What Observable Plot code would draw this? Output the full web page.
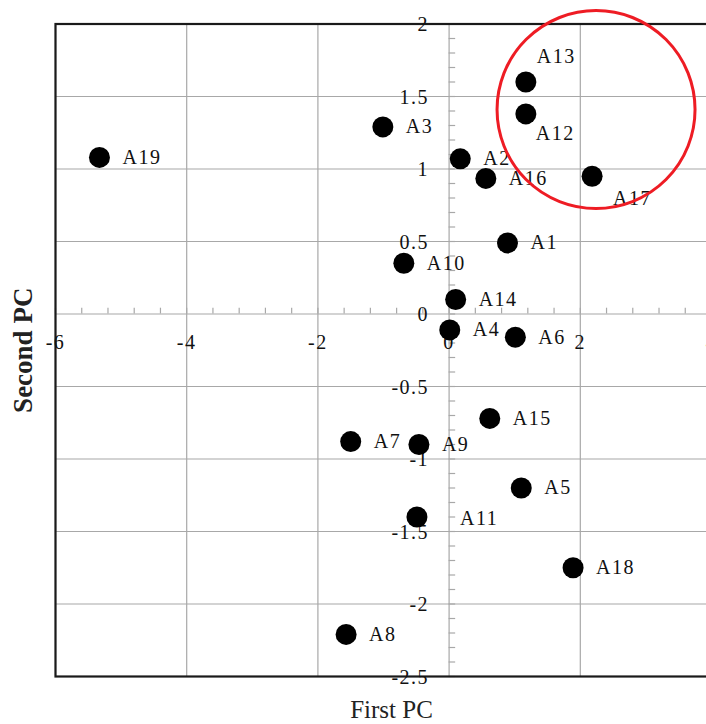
<!DOCTYPE html>
<html>
<head>
<meta charset="utf-8">
<script src="https://cdn.jsdelivr.net/npm/d3@7"></script>
<script src="https://cdn.jsdelivr.net/npm/@observablehq/plot@0.6"></script>
<style>
  body { margin: 0; background: #fff; }
  #chart { width: 706px; height: 724px; overflow: hidden; }
</style>
</head>
<body>
<div id="chart"></div>
<script>
// Sample names and their principal-component scores
const names = ["A1","A2","A3","A4","A5","A6","A7","A8","A9","A10","A11","A12","A13","A14","A15","A16","A17","A18","A19"];
const pc1   = [0.89, 0.17, -1.01, 0.01, 1.10, 1.01, -1.50, -1.57, -0.46, -0.69, -0.49, 1.17, 1.17, 0.10, 0.62, 0.56, 2.18, 1.89, -5.33];
const pc2   = [0.49, 1.07, 1.29, -0.11, -1.20, -0.16, -0.88, -2.21, -0.90, 0.35, -1.40, 1.38, 1.60, 0.10, -0.72, 0.935, 0.95, -1.75, 1.08];

// Axis tick values and labels
const xTicks = [-6, -4, -2, 0, 2, 4];
const xTickLabels = ["-6", "-4", "-2", "0", "2", "4"];
const yTicks = [2, 1.5, 1, 0.5, 0, -0.5, -1, -1.5, -2, -2.5];
const yTickLabels = ["2", "1.5", "1", "0.5", "0", "-0.5", "-1", "-1.5", "-2", "-2.5"];
const xMinor = d3.range(-6, 4.001, 0.4);
const yMinor = d3.range(-2.5, 2.001, 0.1);

// Highlighted cluster (red circle centre, in data units)
const highlight = [{x: 2.24, y: 1.41}];

// Labels placed away from their default spot
const labelOffsets = {A12: [10, 20], A13: [11, -25], A17: [21, 22], A11: [43, 2]};

const points = names.map((n, i) => ({name: n, pc1: pc1[i], pc2: pc2[i]}));
const normalPts = points.filter(d => !(d.name in labelOffsets));
const xTickData = xTicks.map((v, i) => ({v, label: xTickLabels[i]}));
const yTickData = yTicks.map((v, i) => ({v, label: yTickLabels[i]}));

const serif = "'Liberation Serif', 'Times New Roman', serif";
const gridColor = "#a8a8a8";

const marks = [
  Plot.ruleX(xTicks, {stroke: gridColor, strokeWidth: 1.2}),
  Plot.ruleY(yTicks, {stroke: gridColor, strokeWidth: 1.2}),
  Plot.ruleX(xMinor, {x: d => d, y1: 0, y2: 0.04, stroke: gridColor, strokeWidth: 1.2}),
  Plot.ruleY(yMinor, {y: d => d, x1: 0, x2: 0.1, stroke: gridColor, strokeWidth: 1.2}),
  Plot.frame({stroke: "#1a1a1a", strokeWidth: 2.2}),
  Plot.text(xTickData, {x: "v", y: 0, text: "label", dy: 29, fontSize: 20, fill: "#111", fontFamily: serif}),
  Plot.text(yTickData, {x: 0, y: "v", text: "label", dx: -20, dy: 1, textAnchor: "end", fontSize: 20, fill: "#111", fontFamily: serif}),
  Plot.dot(points, {x: "pc1", y: "pc2", r: 10.5, fill: "#000", stroke: "none"}),
  Plot.text(normalPts, {x: "pc1", y: "pc2", text: "name", dx: 23, textAnchor: "start", fontSize: 20, fill: "#111", fontFamily: serif}),
  ...Object.entries(labelOffsets).map(([n, [dx, dy]]) =>
    Plot.text(points.filter(d => d.name === n), {x: "pc1", y: "pc2", text: "name", dx, dy, textAnchor: "start", fontSize: 20, fill: "#111", fontFamily: serif})
  ),
  Plot.dot(highlight, {x: "x", y: "y", r: 99, fill: "none", stroke: "#ee1c24", strokeWidth: 3}),
  Plot.text(["First PC"], {frameAnchor: "bottom", text: d => d, lineAnchor: "top", dy: 24, dx: 8, fontSize: 25, fill: "#222", fontFamily: serif}),
  Plot.text(["Second PC"], {frameAnchor: "left", text: d => d, textAnchor: "middle", rotate: -90, dx: -32, fontSize: 27, fontWeight: "bold", fill: "#222", fontFamily: serif})
];

const chart = Plot.plot({
  width: 706,
  height: 724,
  marginLeft: 55,
  marginRight: -5,
  marginTop: 23.5,
  marginBottom: 48,
  x: {domain: [-6, 4], axis: null},
  y: {domain: [-2.5, 2], axis: null},
  style: {background: "#fff", fontFamily: serif, overflow: "hidden"},
  marks
});
// wider letter spacing for point and tick labels, as in the reference
d3.select(chart).selectAll("text")
  .filter(function() { return /^(A\d+|-?\d+(\.\d+)?)$/.test(this.textContent); })
  .style("letter-spacing", "1.5px");
document.getElementById("chart").appendChild(chart);
</script>
</body>
</html>
